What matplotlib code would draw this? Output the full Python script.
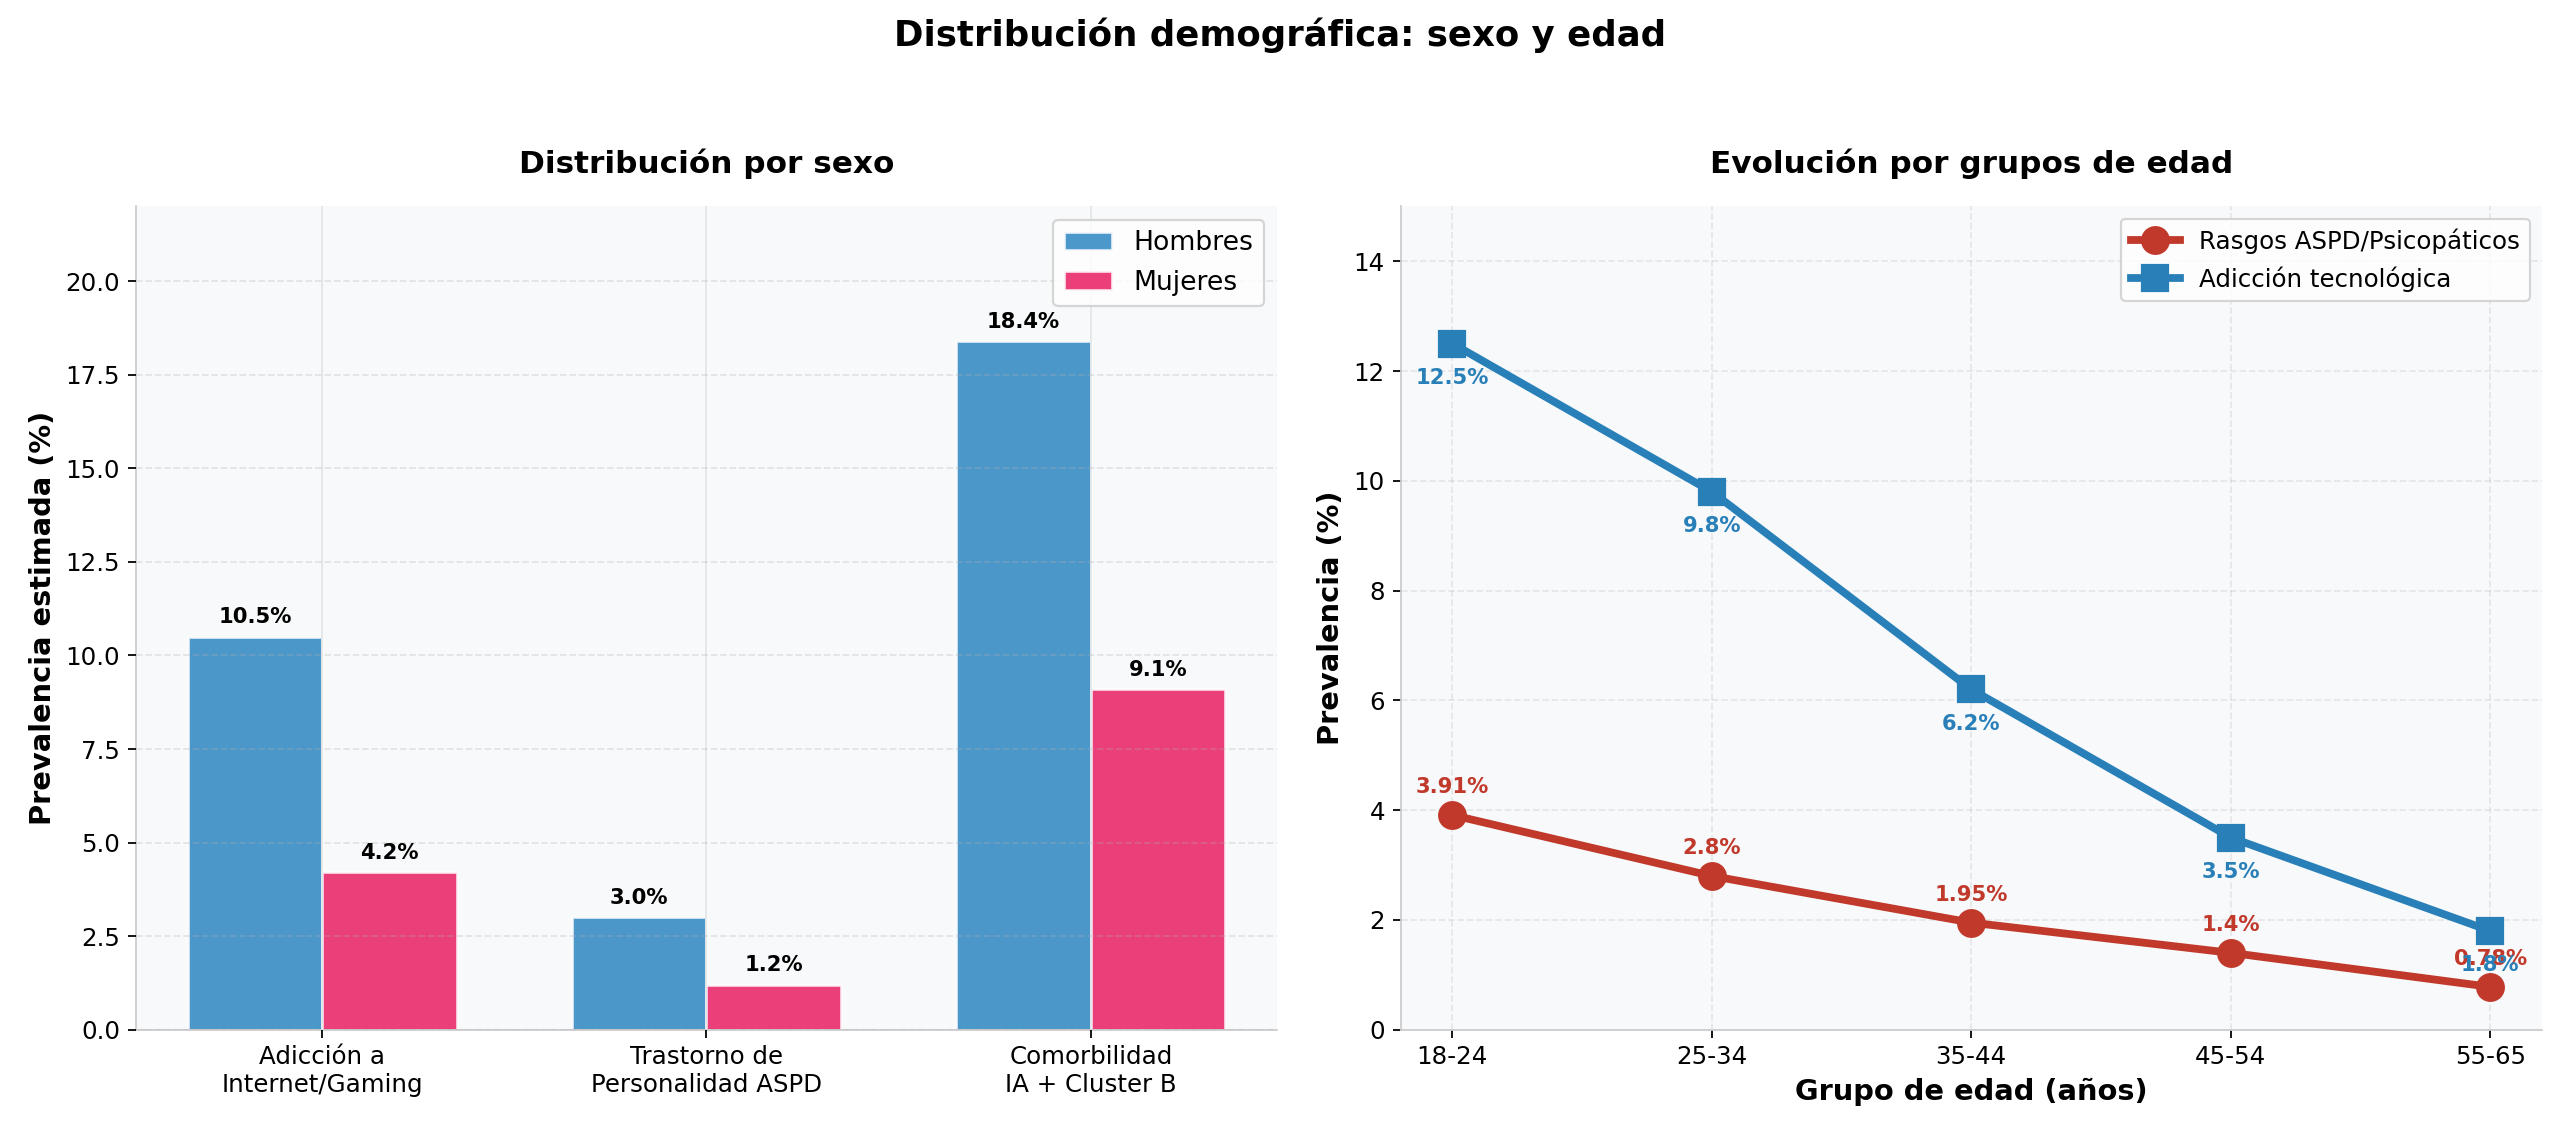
import numpy as np
import matplotlib
matplotlib.use('Agg')
import matplotlib.pyplot as plt

# datos: distribucion por sexo
categorias = ['Adicción a\nInternet/Gaming', 'Trastorno de\nPersonalidad ASPD', 'Comorbilidad\nIA + Cluster B']
hombres = [10.5, 3.0, 18.4]
mujeres = [4.2, 1.2, 9.1]

# datos: grupos de edad
grupos_edad = ['18-24', '25-34', '35-44', '45-54', '55-65']
rasgos_aspd = [3.91, 2.8, 1.95, 1.4, 0.78]
adiccion_tec = [12.5, 9.8, 6.2, 3.5, 1.8]

plt.rcParams['font.family'] = ['DejaVu Sans']

fig, (ax1, ax2) = plt.subplots(1, 2, figsize=(16, 7.0875), dpi=160)
fig.subplots_adjust(left=0.053, right=0.993, bottom=0.092, top=0.818, wspace=0.108)
fig.suptitle('Distribución demográfica: sexo y edad', fontsize=16, fontweight='bold', y=0.985)

bg = '#f8f9fa'
ancho = 0.35
x = np.arange(len(categorias))

# ---- panel izquierdo
ax1.set_facecolor(bg)
b1 = ax1.bar(x - ancho / 2, hombres, ancho, label='Hombres', color='#2E86C1', alpha=0.85,
             edgecolor='white', linewidth=1.2, zorder=2)
b2 = ax1.bar(x + ancho / 2, mujeres, ancho, label='Mujeres', color='#E91E63', alpha=0.85,
             edgecolor='white', linewidth=1.2, zorder=2)
for barras in (b1, b2):
    for b in barras:
        h = b.get_height()
        ax1.text(b.get_x() + b.get_width() / 2, h + 0.25, f'{h:.1f}%', ha='center', va='bottom',
                 fontsize=9.5, fontweight='bold')
ax1.set_xticks(x)
ax1.set_xticklabels(categorias, fontsize=11)
ax1.set_ylim(0, 22)
ax1.set_ylabel('Prevalencia estimada (%)', fontsize=13, fontweight='bold')
ax1.set_title('Distribución por sexo', fontsize=14, fontweight='bold', pad=15)
ax1.legend(fontsize=12, loc='upper right', handlelength=1.8)
ax1.xaxis.grid(True, color='#e3e6ea', linewidth=0.8, zorder=0)
ax1.yaxis.grid(True, linestyle='--', alpha=0.3, zorder=3)
ax1.set_axisbelow(False)
ax1.tick_params(labelsize=11)

# ---- panel derecho
ax2.set_facecolor(bg)
xe = np.arange(len(grupos_edad))
ax2.plot(xe, rasgos_aspd, marker='o', color='#C0392B', linewidth=3.5, markersize=12,
         label='Rasgos ASPD/Psicopáticos', zorder=3)
ax2.plot(xe, adiccion_tec, marker='s', color='#2980B9', linewidth=3.5, markersize=12,
         label='Adicción tecnológica', zorder=3)
for i, v in enumerate(rasgos_aspd):
    ax2.annotate(f'{v}%', (xe[i], v), xytext=(0, 8), textcoords='offset points',
                 ha='center', va='bottom', fontsize=9.5, fontweight='bold', color='#C0392B')
for i, v in enumerate(adiccion_tec):
    ax2.annotate(f'{v}%', (xe[i], v), xytext=(0, -11), textcoords='offset points',
                 ha='center', va='top', fontsize=9.5, fontweight='bold', color='#2980B9')
ax2.set_xticks(xe)
ax2.set_xticklabels(grupos_edad, fontsize=11)
ax2.set_ylim(0, 15)
ax2.set_xlabel('Grupo de edad (años)', fontsize=13, fontweight='bold')
ax2.set_ylabel('Prevalencia (%)', fontsize=13, fontweight='bold')
ax2.set_title('Evolución por grupos de edad', fontsize=14, fontweight='bold', pad=15)
ax2.legend(fontsize=11, loc='upper right')
ax2.grid(True, linestyle='--', alpha=0.25)
ax2.tick_params(labelsize=11)

for ax in (ax1, ax2):
    ax.spines['top'].set_visible(False)
    ax.spines['right'].set_visible(False)
    ax.spines['left'].set_color('#cccccc')
    ax.spines['bottom'].set_color('#cccccc')

fig.savefig('out.png', dpi=160, facecolor='white')
